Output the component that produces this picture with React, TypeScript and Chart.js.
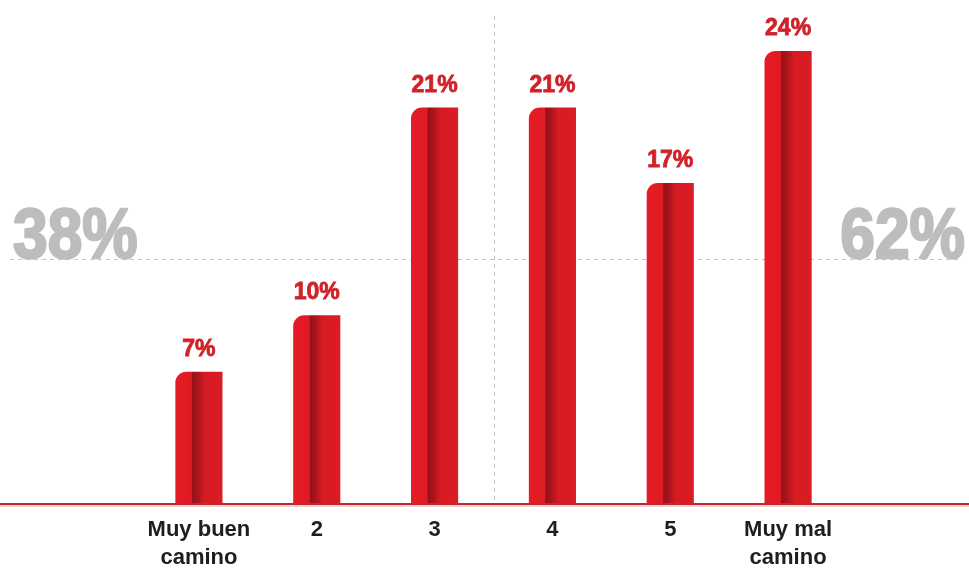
import React, { useEffect, useRef } from "react";
import { Chart, registerables } from "chart.js";

Chart.register(...registerables);

const CATEGORIES: (string | string[])[] = [["Muy buen", "camino"], "2", "3", "4", "5", ["Muy mal", "camino"]];
const VALUES = [7, 10, 21, 21, 17, 24];
const Y_MAX = 25;
const LEFT_TOTAL = "38%";
const RIGHT_TOTAL = "62%";
const REFERENCE_LEVEL = 13;
const SPLIT_AFTER_INDEX = 2;

const BAR_PCT = 0.4;
const FONT = "'Liberation Sans', Arial, sans-serif";

const decorPlugin = {
  id: "decor",
  beforeDatasetsDraw(chart: any) {
    const { ctx, scales, width } = chart;
    const xs = scales.x;
    const ys = scales.y;
    const yRef = Math.round(ys.getPixelForValue(REFERENCE_LEVEL)) + 0.5;
    const xSplit =
      Math.round((xs.getPixelForValue(SPLIT_AFTER_INDEX) + xs.getPixelForValue(SPLIT_AFTER_INDEX + 1)) / 2) + 0.5;
    ctx.save();
    ctx.strokeStyle = "#c4c4c4";
    ctx.lineWidth = 1;
    ctx.setLineDash([4, 4]);
    ctx.beginPath();
    ctx.moveTo(10, yRef);
    ctx.lineTo(width - 8, yRef);
    ctx.stroke();
    ctx.beginPath();
    ctx.moveTo(xSplit, 16);
    ctx.lineTo(xSplit, ys.bottom);
    ctx.stroke();
    ctx.setLineDash([]);

    // big totals
    ctx.fillStyle = "#bdbdbd";
    ctx.strokeStyle = "#bdbdbd";
    ctx.lineWidth = 2.5;
    ctx.lineJoin = "round";
    ctx.font = `bold 70px ${FONT}`;
    ctx.textBaseline = "alphabetic";
    ctx.save();
    ctx.translate(13, yRef - 1.5);
    ctx.scale(0.89, 1);
    ctx.textAlign = "left";
    ctx.fillText(LEFT_TOTAL, 0, 0);
    ctx.strokeText(LEFT_TOTAL, 0, 0);
    ctx.restore();
    ctx.save();
    ctx.translate(width - 4, yRef - 1.5);
    ctx.scale(0.89, 1);
    ctx.textAlign = "right";
    ctx.fillText(RIGHT_TOTAL, 0, 0);
    ctx.strokeText(RIGHT_TOTAL, 0, 0);
    ctx.restore();
    ctx.restore();
  },
  afterDatasetsDraw(chart: any) {
    const { ctx, scales, width } = chart;
    const ys = scales.y;
    const yb = Math.round(ys.getPixelForValue(0));
    ctx.save();
    ctx.fillStyle = "#f3cfcf";
    ctx.fillRect(0, yb + 1, width, 2);
    ctx.fillStyle = "#bf2a30";
    ctx.fillRect(0, yb - 1, width, 2);

    const meta = chart.getDatasetMeta(0);
    ctx.fillStyle = "#d02229";
    ctx.strokeStyle = "#d02229";
    ctx.lineWidth = 0.8;
    ctx.font = `bold 23px ${FONT}`;
    ctx.textAlign = "center";
    ctx.textBaseline = "alphabetic";
    meta.data.forEach((el: any, i: number) => {
      ctx.fillText(`${VALUES[i]}%`, el.x, el.y - 16);
      ctx.strokeText(`${VALUES[i]}%`, el.x, el.y - 16);
    });
    ctx.restore();
  },
};

export default function App() {
  const ref = useRef<HTMLCanvasElement>(null);
  useEffect(() => {
    if (!ref.current) return;
    const chart = new Chart(ref.current, {
      type: "bar",
      data: {
        labels: CATEGORIES,
        datasets: [
          {
            data: VALUES,
            backgroundColor: (c: any) => {
              const ch = c.chart;
              if (!ch.chartArea || c.type !== "data") return "#d81b23";
              const xs = ch.scales.x;
              const cx = xs.getPixelForValue(c.dataIndex);
              const w = (xs.width / CATEGORIES.length) * BAR_PCT;
              const g = ch.ctx.createLinearGradient(cx - w / 2, 0, cx + w / 2, 0);
              g.addColorStop(0, "#e41c25");
              g.addColorStop(0.34, "#e01b24");
              g.addColorStop(0.36, "#97111a");
              g.addColorStop(0.46, "#a6141b");
              g.addColorStop(0.6, "#cf1a22");
              g.addColorStop(0.63, "#d71b23");
              g.addColorStop(1, "#da1c24");
              return g;
            },
            borderWidth: 0,
            borderRadius: { topLeft: 11, topRight: 0, bottomLeft: 0, bottomRight: 0 },
            borderSkipped: false,
            barPercentage: BAR_PCT,
            categoryPercentage: 1,
          },
        ],
      },
      options: {
        animation: false,
        responsive: true,
        maintainAspectRatio: false,
        layout: { padding: { left: 140, right: 122, top: 32, bottom: 0 } },
        plugins: { legend: { display: false }, tooltip: { enabled: false } },
        scales: {
          x: {
            grid: { display: false, drawTicks: false },
            border: { display: false },
            ticks: {
              color: "#1e1e1e",
              font: { family: FONT, size: 22, weight: "bold", lineHeight: 1.27 },
              padding: 12,
              maxRotation: 0,
              autoSkip: false,
            },
            afterFit: (s: any) => {
              s.height = 77;
            },
          },
          y: {
            display: false,
            min: 0,
            max: Y_MAX,
          },
        },
      },
      plugins: [decorPlugin],
    });
    return () => chart.destroy();
  }, []);
  return (
    <div style={{ position: "absolute", left: 0, top: 0, width: 969, height: 581, background: "#fff" }}>
      <canvas ref={ref} />
    </div>
  );
}
